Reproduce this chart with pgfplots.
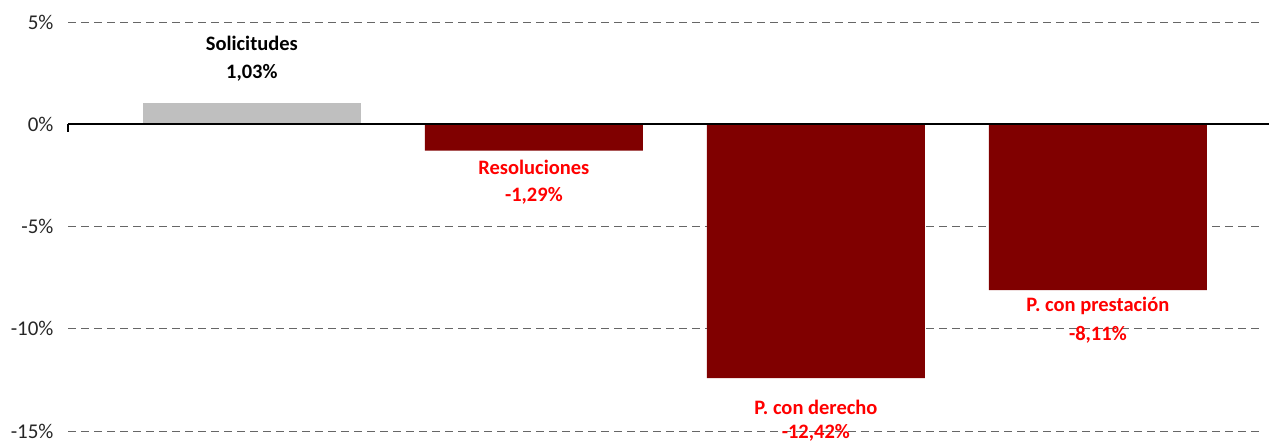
\documentclass[border=0pt]{standalone}
\usepackage{pgfplots}
\pgfplotsset{compat=1.18}
\usepackage{fontspec}
\setmainfont{Carlito}
\definecolor{barred}{HTML}{800000}
\definecolor{bargray}{HTML}{BFBFBF}
\definecolor{lblred}{HTML}{FF0000}
\begin{document}
\begin{tikzpicture}[x=1bp,y=1bp]
\path[use as bounding box] (0,0) rectangle (1269,443);
\begin{axis}[
  at={(68bp,12bp)}, anchor=south west,
  scale only axis,
  width=1192bp, height=409bp,
  xmin=-0.652, xmax=3.575,
  ymin=-15, ymax=5,
  ytick={-15,-10,-5,0,5},
  yticklabels={-15\%,-10\%,-5\%,0\%,5\%},
  xtick=\empty,
  axis line style={draw=none},
  ymajorgrids,
  grid style={dash pattern=on 8bp off 5bp, gray!80!black, line width=0.8bp},
  major tick length=0pt,
  yticklabel style={font=\fontsize{21bp}{24bp}\selectfont, text=black!85, xshift=-11bp},
  ybar, bar width=0.773, bar shift=0pt,
  clip=false,
]
\addplot[fill=bargray, draw=none] coordinates {(0,1.03)};
\addplot[fill=barred, draw=none] coordinates {(1,-1.29) (2,-12.42) (3,-8.11)};
\draw[black, line width=1.6bp] (axis cs:-0.652,0) -- (axis cs:3.625,0);
\draw[black, line width=1.2bp] (axis cs:-0.652,0) -- ++(0pt,-8bp);
\begin{scope}[every node/.style={font=\fontsize{20.5bp}{24bp}\selectfont\bfseries, anchor=center}]
\node[text=black] at (axis cs:0,3.96) {Solicitudes};
\node[text=black] at (axis cs:0,2.49) {1,03\%};
\node[text=lblred] at (axis cs:1,-2.10) {Resoluciones};
\node[text=lblred] at (axis cs:1,-3.52) {-1,29\%};
\node[text=lblred] at (axis cs:2,-13.84) {P. con derecho};
\node[text=lblred] at (axis cs:2,-15.11) {-12,42\%};
\node[text=lblred] at (axis cs:3,-8.90) {P. con prestación};
\node[text=lblred] at (axis cs:3,-10.32) {-8,11\%};
\end{scope}
\end{axis}
\end{tikzpicture}
\end{document}
